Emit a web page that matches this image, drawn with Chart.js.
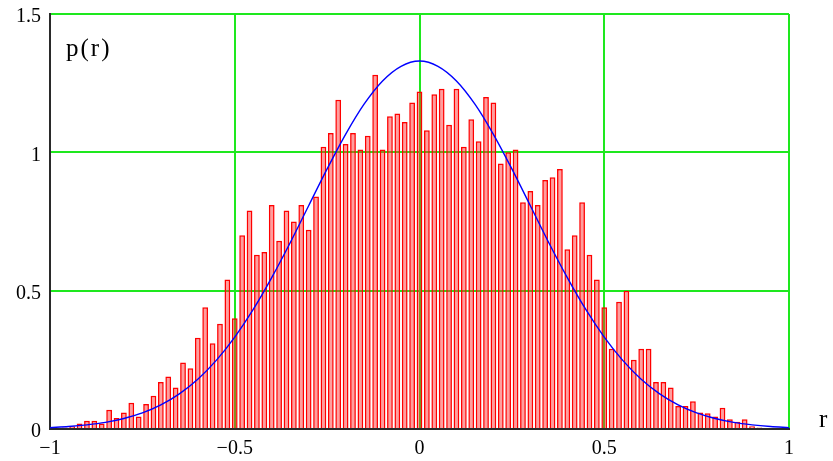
<!DOCTYPE html>
<html>
<head>
<meta charset="utf-8">
<script src="https://cdn.jsdelivr.net/npm/chart.js@4.4.1/dist/chart.umd.min.js"></script>
<style>
  html, body { margin: 0; padding: 0; background: #fff; }
  #wrap { width: 833px; height: 461px; }
</style>
</head>
<body>
<div id="wrap"><canvas id="histChart" width="833" height="461"></canvas></div>
<script>
// histogram bins (centres) and heights p(r)
const binCenters = [
  -0.96, -0.94, -0.92, -0.90, -0.88, -0.86, -0.84, -0.82, -0.80, -0.78,
  -0.76, -0.74, -0.72, -0.70, -0.68, -0.66, -0.64, -0.62, -0.60, -0.58,
  -0.56, -0.54, -0.52, -0.50, -0.48, -0.46, -0.44, -0.42, -0.40, -0.38,
  -0.36, -0.34, -0.32, -0.30, -0.28, -0.26, -0.24, -0.22, -0.20, -0.18,
  -0.16, -0.14, -0.12, -0.10, -0.08, -0.06, -0.04, -0.02, 0.00, 0.02,
  0.04, 0.06, 0.08, 0.10, 0.12, 0.14, 0.16, 0.18, 0.20, 0.22,
  0.24, 0.26, 0.28, 0.30, 0.32, 0.34, 0.36, 0.38, 0.40, 0.42,
  0.44, 0.46, 0.48, 0.50, 0.52, 0.54, 0.56, 0.58, 0.60, 0.62,
  0.64, 0.66, 0.68, 0.70, 0.72, 0.74, 0.76, 0.78, 0.80, 0.82,
  0.84, 0.86, 0.88, 0.90, 0.92
];
const binHeights = [
  0.005, 0.01, 0.02, 0.03, 0.03, 0.02, 0.07, 0.04, 0.06, 0.095,
  0.045, 0.09, 0.12, 0.17, 0.19, 0.15, 0.24, 0.22, 0.33, 0.44,
  0.31, 0.38, 0.54, 0.40, 0.70, 0.79, 0.63, 0.64, 0.81, 0.68,
  0.79, 0.75, 0.81, 0.72, 0.84, 1.02, 1.07, 1.19, 1.03, 1.07,
  1.01, 1.06, 1.28, 1.01, 1.13, 1.14, 1.11, 1.18, 1.22, 1.08,
  1.21, 1.23, 1.10, 1.23, 1.02, 1.12, 1.04, 1.20, 1.18, 0.96,
  1.00, 1.01, 0.82, 0.86, 0.81, 0.90, 0.91, 0.94, 0.65, 0.70,
  0.82, 0.63, 0.54, 0.44, 0.29, 0.46, 0.50, 0.25, 0.29, 0.29,
  0.17, 0.17, 0.15, 0.083, 0.083, 0.10, 0.06, 0.057, 0.045, 0.077,
  0.035, 0.026, 0.035, 0.01, 0.005
];

// fitted density curve
const curveX = [
  -1.00, -0.95, -0.90, -0.85, -0.80, -0.75, -0.70, -0.65, -0.60, -0.55,
  -0.50, -0.45, -0.40, -0.35, -0.30, -0.25, -0.20, -0.15, -0.10, -0.05,
  0.00, 0.05, 0.10, 0.15, 0.20, 0.25, 0.30, 0.35, 0.40, 0.45,
  0.50, 0.55, 0.60, 0.65, 0.70, 0.75, 0.80, 0.85, 0.90, 0.95, 1.00
];
const curveY = [
  0.005, 0.009, 0.015, 0.024, 0.038, 0.058, 0.087, 0.127, 0.18, 0.248,
  0.332, 0.432, 0.547, 0.673, 0.807, 0.94, 1.065, 1.174, 1.258, 1.311,
  1.33, 1.311, 1.258, 1.174, 1.065, 0.94, 0.807, 0.673, 0.547, 0.432,
  0.332, 0.248, 0.18, 0.127, 0.087, 0.058, 0.038, 0.024, 0.015, 0.009, 0.005
];

// axis ranges / ticks
const xRange = [-1, 1];
const yRange = [0, 1.5];
const tickStep = 0.5;

const serif = 'Liberation Serif, Times New Roman, serif';

// labels "p(r)" and "r"
const axisNames = {
    id: 'axisNames',
    afterDraw(chart) {
        const ctx = chart.ctx;
        const a = chart.chartArea;
        ctx.save();
        ctx.fillStyle = '#000';
        ctx.font = '25px ' + serif;
        ctx.textBaseline = 'alphabetic';
        ctx.letterSpacing = '2px';
        ctx.fillText('p(r)', a.left + 16, a.top + 42);
        ctx.letterSpacing = '0px';
        ctx.fillText('r', a.right + 30, a.bottom - 2);
        ctx.restore();
    }
};

const fmt = (v) => String(v).replace('-', '\u2212');

const ctx = document.getElementById('histChart');

new Chart(ctx, {
    type: 'bar',
    data: {
        datasets: [
            {
                type: 'line',
                label: 'fit',
                data: curveX.map((x, i) => ({ x: x, y: curveY[i] })),
                borderColor: '#0000ff',
                borderWidth: 1.4,
                pointRadius: 0,
                cubicInterpolationMode: 'monotone',
                fill: false,
                order: 0
            },
            {
                label: 'p(r)',
                data: binCenters.map((x, i) => ({ x: x, y: binHeights[i] })),
                backgroundColor: 'rgba(255, 40, 40, 0.45)',
                borderColor: '#ff0000',
                borderWidth: 1.5,
                borderSkipped: 'bottom',
                barPercentage: 0.78,
                categoryPercentage: 1,
                order: 1
            }
        ]
    },
    plugins: [axisNames],
    options: {
        responsive: false,
        animation: false,
        layout: { padding: { top: 14, right: 44, left: 0, bottom: 0 } },
        plugins: {
            legend: { display: false },
            tooltip: { enabled: false }
        },
        scales: {
            x: {
                type: 'linear',
                min: xRange[0],
                max: xRange[1],
                offset: false,
                afterFit: (s) => { s.height = 32; },
                grid: { color: '#1ee81e', lineWidth: 2, drawTicks: false, offset: false },
                border: { color: '#2a2a2a', width: 2 },
                ticks: {
                    stepSize: tickStep,
                    padding: 8,
                    color: '#000',
                    font: { family: serif, size: 20 },
                    callback: fmt
                }
            },
            y: {
                min: yRange[0],
                max: yRange[1],
                afterFit: (s) => { s.width = 50; s.paddingTop = 0; s.paddingBottom = 0; },
                grid: { color: '#1ee81e', lineWidth: 2, drawTicks: false },
                border: { color: '#2a2a2a', width: 2 },
                ticks: {
                    stepSize: tickStep,
                    padding: 9,
                    labelOffset: 3,
                    color: '#000',
                    font: { family: serif, size: 20 },
                    callback: fmt
                }
            }
        }
    }
});
</script>
</body>
</html>
